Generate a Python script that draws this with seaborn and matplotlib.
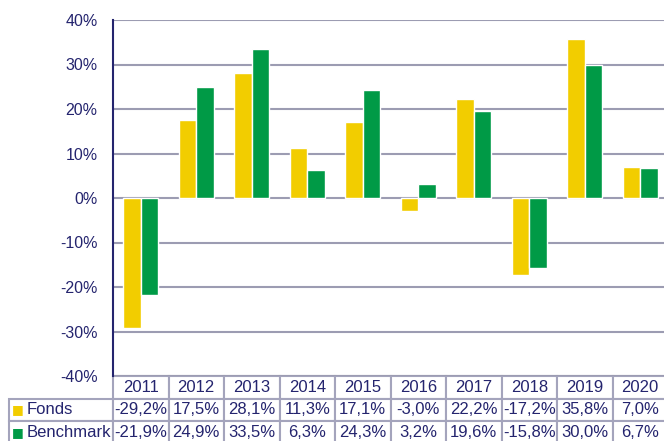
import numpy as np
import pandas as pd
import matplotlib
matplotlib.use('Agg')
import matplotlib.pyplot as plt
from matplotlib.table import Table
from matplotlib.ticker import FuncFormatter, MultipleLocator
import seaborn as sns

sns.set_style('white')
plt.rcParams['font.family'] = ['Liberation Sans', 'DejaVu Sans']

# data (yearly returns in %)
years = ['2011', '2012', '2013', '2014', '2015', '2016', '2017', '2018', '2019', '2020']
fonds = [-29.2, 17.5, 28.1, 11.3, 17.1, -3.0, 22.2, -17.2, 35.8, 7.0]
benchmark = [-21.9, 24.9, 33.5, 6.3, 24.3, 3.2, 19.6, -15.8, 30.0, 6.7]
series = ['Fonds', 'Benchmark']

navy = '#24246e'
grid_col = '#9c9cb2'
table_col = '#a4a4bc'
colors = {'Fonds': '#f2cd00', 'Benchmark': '#009a46'}

df = pd.DataFrame({
    'year': years * 2,
    'series': ['Fonds'] * len(years) + ['Benchmark'] * len(years),
    'value': fonds + benchmark,
})

W, H = 664, 441
fig = plt.figure(figsize=(W / 100, H / 100), dpi=100)
# plot area in pixels: x 113..668, y 20..376
ax = fig.add_axes([113 / W, 1 - 376 / H, 555 / W, 356 / H])

sns.barplot(data=df, x='year', y='value', hue='series', hue_order=series,
            palette=colors, width=0.63, saturation=1, legend=False, ax=ax)

ax.set_xlim(-0.5, 9.5)
ax.set_ylim(-40, 40)
ax.yaxis.set_major_locator(MultipleLocator(10))
ax.yaxis.set_major_formatter(FuncFormatter(lambda v, p: f'{v:.0f}%'))
ax.tick_params(axis='y', length=0, pad=11, labelsize=11.5, labelcolor=navy)
ax.set_xticks([])
ax.set_xlabel('')
ax.set_ylabel('')
ax.grid(axis='y', color=grid_col, linewidth=1.5)
ax.set_axisbelow(True)
for s in ['top', 'right', 'bottom']:
    ax.spines[s].set_visible(False)
ax.spines['left'].set_color(navy)
ax.spines['left'].set_linewidth(1.5)
ax.spines['left'].set_zorder(3)

# data table under the plot
def fmt(v):
    return f'{v:.1f}%'.replace('.', ',')

cell_text = [[fmt(v) for v in fonds], [fmt(v) for v in benchmark]]
col_w = 55.5
label_w = 104
tbl_h = 68 / 356
tbl = Table(ax, bbox=[-label_w / 555, -tbl_h, (label_w + 555) / 555, tbl_h])
for c, y in enumerate(years):
    tbl.add_cell(0, c + 1, width=col_w, height=1, text=y, loc='center')
for r, name in enumerate(series):
    cell = tbl.add_cell(r + 1, 0, width=label_w, height=1, text=name, loc='left')
    cell.PAD = 18 / label_w
    for c, t in enumerate(cell_text[r]):
        tbl.add_cell(r + 1, c + 1, width=col_w, height=1, text=t, loc='center')
tbl.auto_set_font_size(False)
tbl.set_fontsize(12)
for cell in tbl.get_celld().values():
    cell.set_edgecolor(table_col)
    cell.set_linewidth(1.5)
    cell.get_text().set_color(navy)
ax.add_table(tbl)

# legend squares in the row label cells
row_h = tbl_h / 3
for i, name in enumerate(series):
    ax.text((18 - 113) / 555, -row_h * (1.5 + i), '\u25a0', color=colors[name],
            fontsize=9, ha='center', va='center', transform=ax.transAxes,
            family=['DejaVu Sans'])

fig.savefig('out.png', dpi=100)
